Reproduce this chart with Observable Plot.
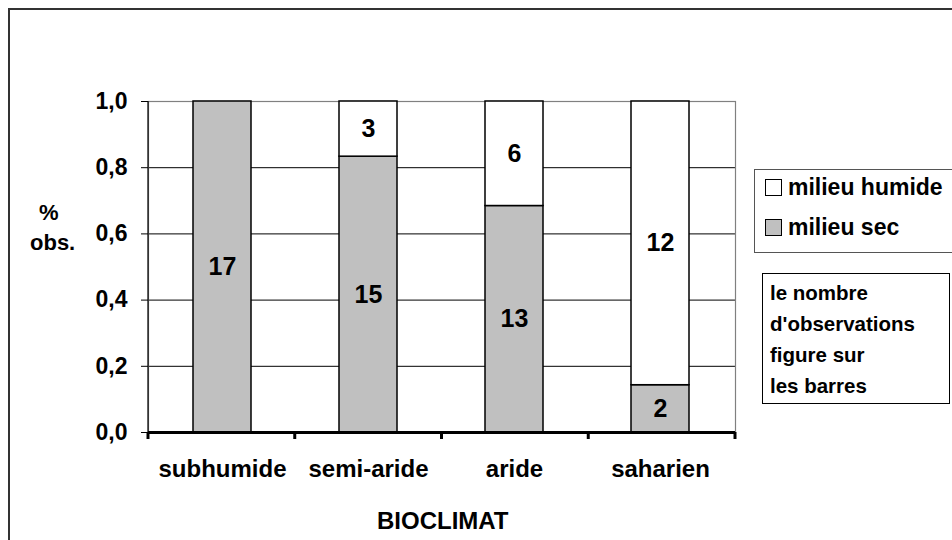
<!DOCTYPE html>
<html>
<head>
<meta charset="utf-8">
<script src="https://cdn.jsdelivr.net/npm/d3@7"></script>
<script src="https://cdn.jsdelivr.net/npm/@observablehq/plot@0.6"></script>
<style>
  body { margin: 0; background: #fff; }
  #wrap { position: relative; width: 952px; height: 540px; overflow: hidden;
          font-family: "Liberation Sans", Arial, sans-serif; font-weight: bold; color: #000; }
  #chart { position: absolute; left: 0; top: 0; }
  #frame { position: absolute; left: 8px; top: 8px; width: 1000px; height: 600px;
           border: 2px solid #333; box-sizing: border-box; }
  .lbl { position: absolute; white-space: nowrap; line-height: 1; }
  #legend { position: absolute; left: 754px; top: 169px; width: 220px; height: 84px;
            border: 1px solid #555; box-sizing: border-box; background: #fff; }
  .item { position: absolute; left: 10px; font-size: 23px; display: flex; align-items: center; }
  .sw { width: 15px; height: 15px; border: 1.5px solid #000; margin-right: 6px; }
  #note { position: absolute; left: 762px; top: 273px; width: 188px; height: 131px;
          border: 1.5px solid #000; box-sizing: border-box; background: #fff;
          font-size: 20.5px; line-height: 31px; padding: 3px 0 0 7px; }
</style>
</head>
<body>
<div id="wrap">
  <div id="frame"></div>
  <div id="chart"></div>
  <div class="lbl" style="left:39px; top:202px; font-size:22px;">%</div>
  <div class="lbl" style="left:30px; top:232px; font-size:22px;">obs.</div>
  <div class="lbl" style="left:377px; top:509px; font-size:24px;">BIOCLIMAT</div>
  <div id="legend"></div>
  <div id="note"></div>
</div>
<script>
// ---- data ----
const bioclimats = ["subhumide", "semi-aride", "aride", "saharien"];
const secCounts = [17, 15, 13, 2];
const humideCounts = [0, 3, 6, 12];
const milieux = ["milieu humide", "milieu sec"];
const milieuColors = ["#ffffff", "#c0c0c0"];
const yTicks = [0, 0.2, 0.4, 0.6, 0.8, 1.0];
const gridTicks = [0.2, 0.4, 0.6, 0.8];
const noteLines = ["le nombre", "d'observations", "figure sur", "les barres"];

const rows = bioclimats.flatMap((b, i) => [
  {bioclimat: b, milieu: "milieu sec", count: secCounts[i]},
  {bioclimat: b, milieu: "milieu humide", count: humideCounts[i]}
]);

const stackOpts = {x: "bioclimat", y: "count", z: "milieu", offset: "normalize",
                   order: ["milieu sec", "milieu humide"]};

// left axis line and category-boundary ticks, derived from the plot frame
function axisDecor(index, scales, values, dims) {
  const g = d3.create("svg:g");
  const x0 = dims.marginLeft, x1 = dims.width - dims.marginRight;
  const yb = dims.height - dims.marginBottom, yt = dims.marginTop;
  const n = bioclimats.length;
  g.append("line").attr("x1", x0).attr("x2", x0).attr("y1", yt).attr("y2", yb)
    .attr("stroke", "black").attr("stroke-width", 1.2);
  for (let i = 0; i <= n; i++) {
    const x = x0 + (x1 - x0) * i / n;
    g.append("line").attr("x1", x).attr("x2", x).attr("y1", yb).attr("y2", yb + 7)
      .attr("stroke", "black").attr("stroke-width", 3);
  }
  return g.node();
}

const chart = Plot.plot({
  width: 952, height: 540,
  marginLeft: 148, marginRight: 217, marginTop: 101, marginBottom: 108,
  style: {fontFamily: "Liberation Sans, Arial, sans-serif", fontWeight: "bold",
          fontSize: "24px", color: "black", background: "transparent"},
  x: {domain: bioclimats, paddingInner: 0.6, paddingOuter: 0.3, label: null, axis: null},
  y: {domain: [0, 1], label: null, axis: null},
  color: {domain: milieux, range: milieuColors},
  marks: [
    Plot.gridY(gridTicks, {stroke: "black", strokeOpacity: 1, strokeWidth: 1}),
    Plot.frame({stroke: "#808080", strokeWidth: 1.2}),
    Plot.barY(rows, Plot.stackY({...stackOpts, fill: "milieu", stroke: "black", strokeWidth: 1.5})),
    Plot.text(rows.filter(d => d.count > 0),
      Plot.stackY({...stackOpts, text: "count", fontSize: 25, fontWeight: "bold", fill: "black"})),
    Plot.ruleY([0], {stroke: "black", strokeWidth: 3}),
    axisDecor,
    Plot.axisY(yTicks, {tickSize: 7, tickPadding: 14, stroke: "black", fontSize: 23,
      tickFormat: d => d.toFixed(1).replace(".", ","), label: null}),
    Plot.axisX({tickSize: 0, tickPadding: 27, fontSize: 24, label: null})
  ]
});
document.getElementById("chart").appendChild(chart);

// legend
const legend = document.getElementById("legend");
milieux.forEach((m, i) => {
  const it = document.createElement("div");
  it.className = "item";
  it.style.top = (i === 0 ? 4 : 44) + "px";
  const sw = document.createElement("span");
  sw.className = "sw";
  sw.style.background = milieuColors[i];
  it.appendChild(sw);
  it.appendChild(document.createTextNode(m));
  legend.appendChild(it);
});
document.getElementById("note").innerHTML = noteLines.join("<br>");
</script>
</body>
</html>
